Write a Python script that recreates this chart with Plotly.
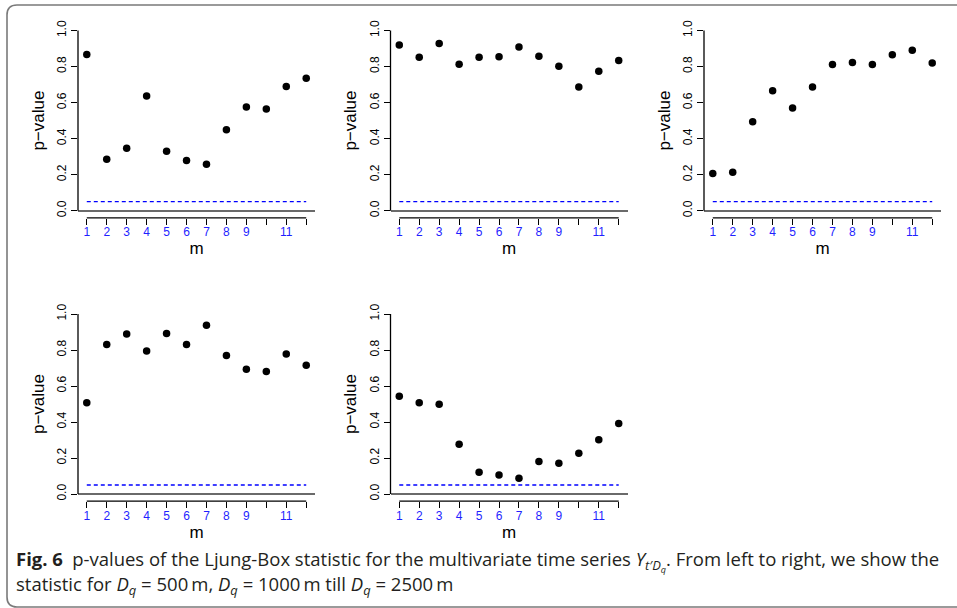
import plotly.graph_objects as go

# ---------------- data ----------------
M = list(range(1, 13))
X_LABEL_VALS = [1, 2, 3, 4, 5, 6, 7, 8, 9, 11]
X_LABEL_TEXT = ["1", "2", "3", "4", "5", "6", "7", "8", "9", "11"]
Y_TICKS = [0.0, 0.2, 0.4, 0.6, 0.8, 1.0]
Y_TICK_TEXT = ["0.0", "0.2", "0.4", "0.6", "0.8", "1.0"]
THRESHOLD = 0.05

p_dq500 = [0.867, 0.286, 0.346, 0.637, 0.330, 0.278, 0.258, 0.449, 0.576, 0.565, 0.689, 0.735]
p_dq1000 = [0.920, 0.851, 0.928, 0.813, 0.851, 0.854, 0.909, 0.857, 0.801, 0.687, 0.774, 0.833]
p_dq1500 = [0.206, 0.214, 0.494, 0.666, 0.570, 0.687, 0.811, 0.822, 0.811, 0.865, 0.890, 0.820]
p_dq2000 = [0.507, 0.831, 0.889, 0.794, 0.891, 0.830, 0.937, 0.770, 0.693, 0.681, 0.778, 0.715]
p_dq2500 = [0.543, 0.507, 0.498, 0.277, 0.121, 0.106, 0.087, 0.180, 0.171, 0.227, 0.301, 0.392]

SERIES = [p_dq500, p_dq1000, p_dq1500, p_dq2000, p_dq2500]

Y_TITLE = "p\u2212value"
X_TITLE = "m"
CAPTION_1 = ("<b>Fig. 6</b>\u2002p-values of the Ljung-Box statistic for the multivariate time series "
             "<i>Y</i><sub><i>t\u2032D</i><sub><i>q</i></sub></sub>. From left to right, we show the")
CAPTION_2 = ("statistic for <i>D</i><sub><i>q</i></sub> = 500\u2009m, "
             "<i>D</i><sub><i>q</i></sub> = 1000\u2009m "
             "till <i>D</i><sub><i>q</i></sub> = 2500\u2009m")

# ---------------- layout helpers ----------------
W, H = 957, 608


def px(x):
    return x / W


def py(y):
    return 1 - y / H


COLS = [(78, 315), (390.5, 627.5), (704, 941)]
ROWS = [(23.3, 217.9), (306.8, 501.2)]
POS = [(0, 0), (0, 1), (0, 2), (1, 0), (1, 1)]
X_RANGE = [0.56, 12.44]

SANS = "Liberation Sans, sans-serif"
TICK_FONT = dict(family=SANS, size=12, color="black")
AX_FONT = dict(family=SANS, size=17, color="black")
BLUE = "#1f1fff"
NP = len(SERIES)

fig = go.Figure()
shapes = []
annotations = []

for i, (vals, (r, c)) in enumerate(zip(SERIES, POS)):
    n = "" if i == 0 else str(i + 1)
    xa, ya = "x" + n, "y" + n
    xt = "x" + str(i + 1 + NP)  # tick-only overlay axis (ticks at every m)
    fig.add_trace(go.Scatter(
        x=M, y=vals, mode="markers",
        marker=dict(color="black", size=7.5),
        xaxis=xa, yaxis=ya, showlegend=False, hoverinfo="x+y"))
    fig.add_trace(go.Scatter(x=[], y=[], mode="markers", xaxis=xt, yaxis=ya,
                             showlegend=False, hoverinfo="skip"))

    x0, x1 = COLS[c]
    y0, y1 = ROWS[r]
    fig.layout["xaxis" + n] = dict(
        domain=[px(x0), px(x1)], range=X_RANGE, anchor=ya,
        tickmode="array", tickvals=X_LABEL_VALS, ticktext=X_LABEL_TEXT,
        ticks="outside", ticklen=6, tickwidth=1.3, tickcolor="black",
        ticklabelstandoff=-3,
        tickfont=dict(TICK_FONT, color=BLUE),
        title=dict(text=X_TITLE, font=AX_FONT, standoff=3),
        automargin=False,
        showgrid=False, zeroline=False, showline=False, fixedrange=True)
    fig.layout["xaxis" + str(i + 1 + NP)] = dict(
        domain=[px(x0), px(x1)], range=X_RANGE, anchor=ya, overlaying=xa, side="bottom",
        tickmode="array", tickvals=M, showticklabels=False,
        ticks="outside", ticklen=6, tickwidth=1.3, tickcolor="black",
        automargin=False,
        showgrid=False, zeroline=False, showline=False, fixedrange=True)
    fig.layout["yaxis" + n] = dict(
        domain=[py(y1), py(y0)], range=[-0.04, 1.04], anchor=xa,
        tickmode="array", tickvals=Y_TICKS, ticktext=Y_TICK_TEXT, tickangle=-90,
        ticks="outside", ticklen=6, tickwidth=1.3, tickcolor="black",
        tickfont=TICK_FONT,
        title=dict(text=Y_TITLE, font=AX_FONT, standoff=6),
        automargin=False,
        showgrid=False, zeroline=True, zerolinecolor="#6a6a6a", zerolinewidth=1.8,
        showline=False, fixedrange=True)

    # R-style axis lines spanning only the tick range
    shapes.append(dict(type="line", xref=xa + " domain", yref=ya, x0=0, x1=0,
                       y0=Y_TICKS[0], y1=Y_TICKS[-1], line=dict(color="black", width=1.3)))
    shapes.append(dict(type="line", xref=xa, yref=ya + " domain", x0=M[0], x1=M[-1],
                       y0=0, y1=0, line=dict(color="black", width=1.3)))
    # significance threshold
    shapes.append(dict(type="line", xref=xa, yref=ya, x0=M[0], x1=M[-1],
                       y0=THRESHOLD, y1=THRESHOLD,
                       line=dict(color="#0000ff", width=1.3, dash="4px,3px")))

CAP_FONT = dict(family="Open Sans, sans-serif", size=18.5, color="#231f20")
annotations.append(dict(text=CAPTION_1, xref="paper", yref="paper", x=px(14), y=py(560.5),
                        showarrow=False, xanchor="left", yanchor="middle", font=CAP_FONT))
annotations.append(dict(text=CAPTION_2, xref="paper", yref="paper", x=px(14), y=py(585),
                        showarrow=False, xanchor="left", yanchor="middle", font=CAP_FONT))

# figure frame (rounded box)
frame = (f"M {px(965)},{py(5)} L {px(17)},{py(5)} Q {px(7)},{py(5)} {px(7)},{py(15)} "
         f"L {px(7)},{py(597)} Q {px(7)},{py(607)} {px(17)},{py(607)} L {px(965)},{py(607)}")
shapes.append(dict(type="path", xref="paper", yref="paper", path=frame,
                   line=dict(color="#7a7a7a", width=1.6)))

fig.update_layout(
    width=W, height=H, margin=dict(l=0, r=0, t=0, b=0),
    paper_bgcolor="white", plot_bgcolor="white",
    shapes=shapes, annotations=annotations, showlegend=False)

fig.write_html("out.html", config=dict(displayModeBar=False))
